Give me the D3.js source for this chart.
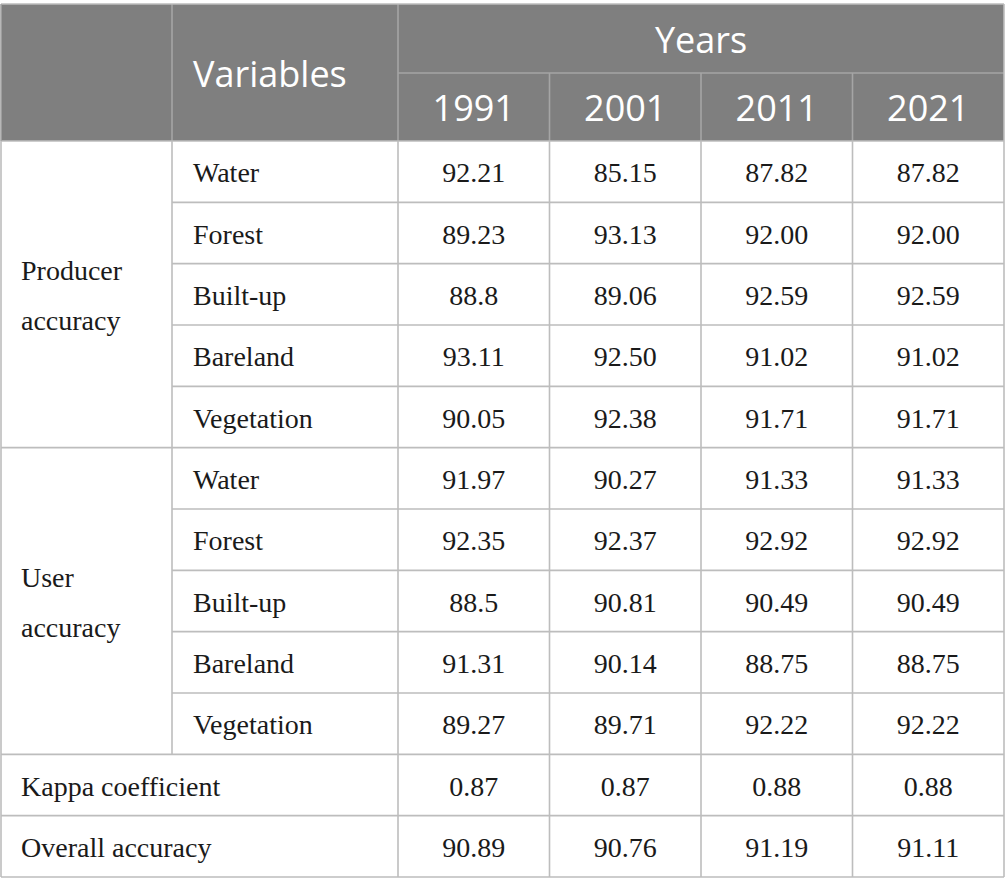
<!DOCTYPE html>
<html>
<head>
<meta charset="utf-8">
<script src="https://cdn.jsdelivr.net/npm/d3@7"></script>
<style>
  body { margin: 0; background: #fff; }
</style>
</head>
<body>
<div id="table"></div>
<script>
const years = ['1991', '2001', '2011', '2021'];
const classes = ['Water', 'Forest', 'Built-up', 'Bareland', 'Vegetation'];
const groups = ['Producer accuracy', 'User accuracy'];

// values kept as text so trailing zeros stay as printed
const producerValues = [
  ['92.21', '85.15', '87.82', '87.82'],
  ['89.23', '93.13', '92.00', '92.00'],
  ['88.8', '89.06', '92.59', '92.59'],
  ['93.11', '92.50', '91.02', '91.02'],
  ['90.05', '92.38', '91.71', '91.71']
];
const userValues = [
  ['91.97', '90.27', '91.33', '91.33'],
  ['92.35', '92.37', '92.92', '92.92'],
  ['88.5', '90.81', '90.49', '90.49'],
  ['91.31', '90.14', '88.75', '88.75'],
  ['89.27', '89.71', '92.22', '92.22']
];
const kappaValues = ['0.87', '0.87', '0.88', '0.88'];
const overallValues = ['90.89', '90.76', '91.19', '91.11'];

const w = 1005;
const h = 896;
const yTop = 4, headMid = 73, headBottom = 141, yBottom = 877;
const xLeft = 1, col1 = 172, col2 = 398, xRight = 1004;
const pad = 21;
const lineColor = '#bdbdbd';
const headLine = '#a5a5a5';
const headFill = '#7f7f7f';
const serif = '"Liberation Serif", "Times New Roman", serif';
const sans = '"Open Sans", "Noto Sans", sans-serif';

// build flat row list
const rows = [];
[producerValues, userValues].forEach((vals, g) => {
  vals.forEach((v, i) => rows.push({ group: g, label: classes[i], values: v }));
});
rows.push({ group: null, label: 'Kappa coefficient', values: kappaValues });
rows.push({ group: null, label: 'Overall accuracy', values: overallValues });

const y = d3.scaleBand().domain(d3.range(rows.length)).range([headBottom, yBottom]);
const x = d3.scaleBand().domain(years).range([col2, xRight]);

const svg = d3.select('#table').append('svg').attr('width', w).attr('height', h);

// header background
svg.append('rect')
  .attr('x', xLeft).attr('y', yTop)
  .attr('width', xRight - xLeft).attr('height', headBottom - yTop)
  .attr('fill', headFill);

const line = (x1, y1, x2, y2, c) => svg.append('line')
  .attr('x1', x1).attr('y1', y1).attr('x2', x2).attr('y2', y2)
  .attr('stroke', c || lineColor).attr('stroke-width', 1.6);

// header lines
line(col1, yTop, col1, headBottom, headLine);
line(col2, yTop, col2, headBottom, headLine);
line(col2, headMid, xRight, headMid, headLine);
years.slice(1).forEach(yr => line(x(yr), headMid, x(yr), headBottom, headLine));

// header text
const headText = (tx, ty, t, anchor) => svg.append('text')
  .attr('x', tx).attr('y', ty)
  .attr('text-anchor', anchor || 'middle')
  .attr('font-family', sans).attr('font-size', 36)
  .attr('fill', '#fff')
  .text(t);

headText(col1 + pad, 87, 'Variables', 'start');
headText((col2 + xRight) / 2, 53, 'Years');
years.forEach(yr => headText(x(yr) + x.bandwidth() / 2, 121, yr));

// body horizontal lines
rows.forEach((r, i) => {
  if (i === 0) return;
  const startX = (r.group !== null && i % 5 !== 0) ? col1 : xLeft;
  line(startX, y(i), xRight, y(i));
});
line(xLeft, headBottom, xRight, headBottom);
line(xLeft, yBottom, xRight, yBottom);
line(xLeft, headBottom, xLeft, yBottom);
line(xRight, yTop, xRight, yBottom);
line(xLeft, yTop, xRight, yTop);
line(xLeft, yTop, xLeft, headBottom, headLine);

// body vertical lines
line(col1, headBottom, col1, y(10));
line(col2, headBottom, col2, yBottom);
years.slice(1).forEach(yr => line(x(yr), headBottom, x(yr), yBottom));

const body = svg.append('g')
  .attr('font-family', serif).attr('font-size', 28).attr('fill', '#1a1a1a');

// group labels, two lines each
groups.forEach((g, gi) => {
  const yc = (y(gi * 5) + y(gi * 5 + 4) + y.bandwidth()) / 2;
  const parts = g.split(' ');
  body.append('text').attr('x', pad).attr('y', yc - 14.3).text(parts[0]);
  body.append('text').attr('x', pad).attr('y', yc + 35.7).text(parts[1]);
});

// row labels and values
rows.forEach((r, i) => {
  const base = y(i) + y.bandwidth() / 2 + 10.5;
  body.append('text')
    .attr('x', r.group !== null ? col1 + pad : pad)
    .attr('y', base)
    .text(r.label);
  body.selectAll(null)
    .data(r.values)
    .enter()
    .append('text')
    .attr('x', (d, j) => x(years[j]) + x.bandwidth() / 2)
    .attr('y', base)
    .attr('text-anchor', 'middle')
    .text(d => d);
});
</script>
</body>
</html>
